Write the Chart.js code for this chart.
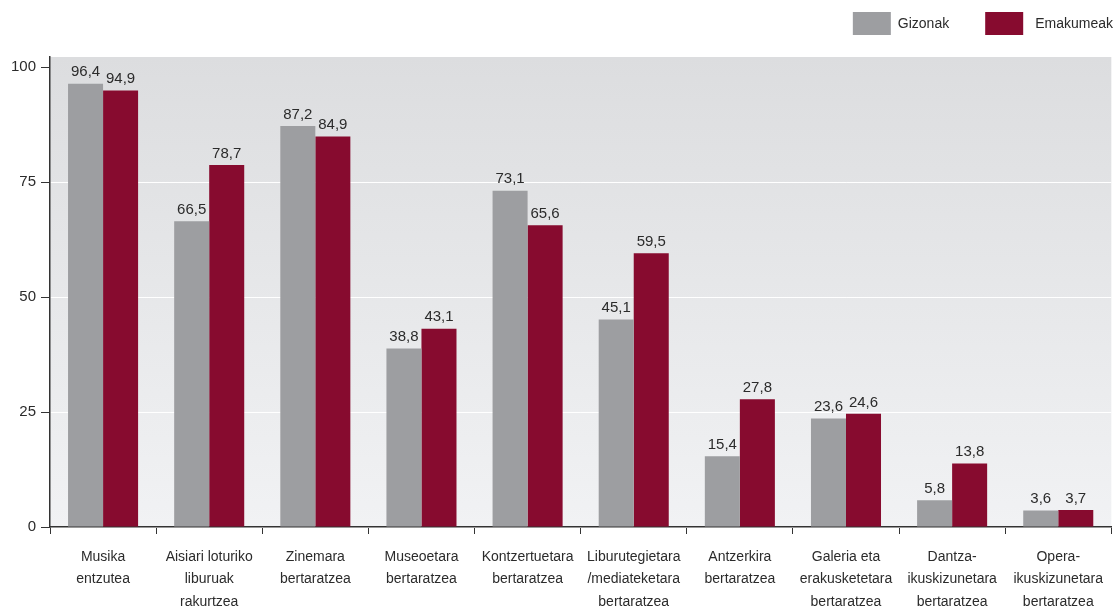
<!DOCTYPE html>
<html>
<head>
<meta charset="utf-8">
<script src="https://cdn.jsdelivr.net/npm/chart.js@4"></script>
<style>
  html, body { margin: 0; padding: 0; background: #fff; }
  #wrap { width: 1115px; height: 606px; }
</style>
</head>
<body>
<div id="wrap"><canvas id="chart" width="1115" height="606"></canvas></div>
<script>
const categories = [
  ['Musika', 'entzutea'],
  ['Aisiari loturiko', 'liburuak', 'rakurtzea'],
  ['Zinemara', 'bertaratzea'],
  ['Museoetara', 'bertaratzea'],
  ['Kontzertuetara', 'bertaratzea'],
  ['Liburutegietara', '/mediateketara', 'bertaratzea'],
  ['Antzerkira', 'bertaratzea'],
  ['Galeria eta', 'erakusketetara', 'bertaratzea'],
  ['Dantza-', 'ikuskizunetara', 'bertaratzea'],
  ['Opera-', 'ikuskizunetara', 'bertaratzea']
];
const gizonak = [96.4, 66.5, 87.2, 38.8, 73.1, 45.1, 15.4, 23.6, 5.8, 3.6];
const emakumeak = [94.9, 78.7, 84.9, 43.1, 65.6, 59.5, 27.8, 24.6, 13.8, 3.7];
const yTicks = [0, 25, 50, 75, 100];

const FONT = '"Liberation Sans", Arial, sans-serif';
const TEXT = '#2b2b2b';

// grey gradient behind the bars
const bgPlugin = {
  id: 'bg',
  beforeDraw(chart) {
    const { ctx, chartArea: a } = chart;
    const g = ctx.createLinearGradient(0, a.top, 0, a.bottom);
    g.addColorStop(0, '#dcdddf');
    g.addColorStop(1, '#f1f2f4');
    ctx.save();
    ctx.fillStyle = g;
    ctx.fillRect(a.left, a.top, a.right - a.left, a.bottom - a.top);
    ctx.restore();
  }
};

// value labels with comma decimals
const valuePlugin = {
  id: 'values',
  afterDatasetsDraw(chart) {
    const ctx = chart.ctx;
    ctx.save();
    ctx.font = '15px ' + FONT;
    ctx.fillStyle = TEXT;
    ctx.textAlign = 'center';
    ctx.textBaseline = 'bottom';
    chart.data.datasets.forEach((ds, i) => {
      chart.getDatasetMeta(i).data.forEach((bar, j) => {
        ctx.fillText(ds.data[j].toFixed(1).replace('.', ','), bar.x, bar.y - 4);
      });
    });
    ctx.restore();
  }
};

// legend top right, drawn by hand so the gaps match
const legendPlugin = {
  id: 'topLegend',
  afterDraw(chart) {
    const ctx = chart.ctx;
    ctx.save();
    ctx.font = '14px ' + FONT;
    ctx.textBaseline = 'middle';
    const gaps = [7, 12];
    let right = chart.width - 2;
    const items = chart.data.datasets.map((ds, i) => ({ ds, i })).reverse();
    items.forEach(({ ds, i }) => {
      const w = ctx.measureText(ds.label).width;
      const tx = right - w;
      const bx = tx - gaps[i] - 38;
      ctx.fillStyle = ds.backgroundColor;
      ctx.fillRect(bx, 12, 38, 23);
      ctx.fillStyle = TEXT;
      ctx.textAlign = 'left';
      ctx.fillText(ds.label, tx, 24);
      right = bx - 36;
    });
    ctx.restore();
  }
};

new Chart(document.getElementById('chart').getContext('2d'), {
  type: 'bar',
  data: {
    labels: categories,
    datasets: [
      { label: 'Gizonak', data: gizonak, backgroundColor: '#9d9ea1' },
      { label: 'Emakumeak', data: emakumeak, backgroundColor: '#870b2f' }
    ]
  },
  options: {
    responsive: false,
    animation: false,
    layout: { padding: { left: 0, right: 0, top: 57, bottom: 0 } },
    datasets: { bar: { categoryPercentage: 0.66, barPercentage: 1 } },
    plugins: {
      legend: { display: false },
      tooltip: { enabled: false }
    },
    scales: {
      x: {
        afterFit: s => { s.height = 79; },
        grid: { drawOnChartArea: false, tickColor: '#333', tickLength: 7, offset: true },
        border: { color: '#333', width: 1.5 },
        ticks: { color: TEXT, font: { family: FONT, size: 14, lineHeight: 1.6 }, padding: 12, maxRotation: 0 }
      },
      y: {
        min: 0,
        max: 102.2,
        afterFit: s => { s.width = 50; },
        afterBuildTicks: s => { s.ticks = yTicks.map(v => ({ value: v })); },
        grid: {
          color: c => (c.tick && c.tick.value === 100 ? 'rgba(0,0,0,0)' : '#ffffff'),
          lineWidth: 1,
          tickColor: '#333',
          tickLength: 9
        },
        border: { color: '#333', width: 1.5 },
        ticks: { color: TEXT, font: { family: FONT, size: 15 }, padding: 5 }
      }
    }
  },
  plugins: [bgPlugin, valuePlugin, legendPlugin]
});
</script>
</body>
</html>
